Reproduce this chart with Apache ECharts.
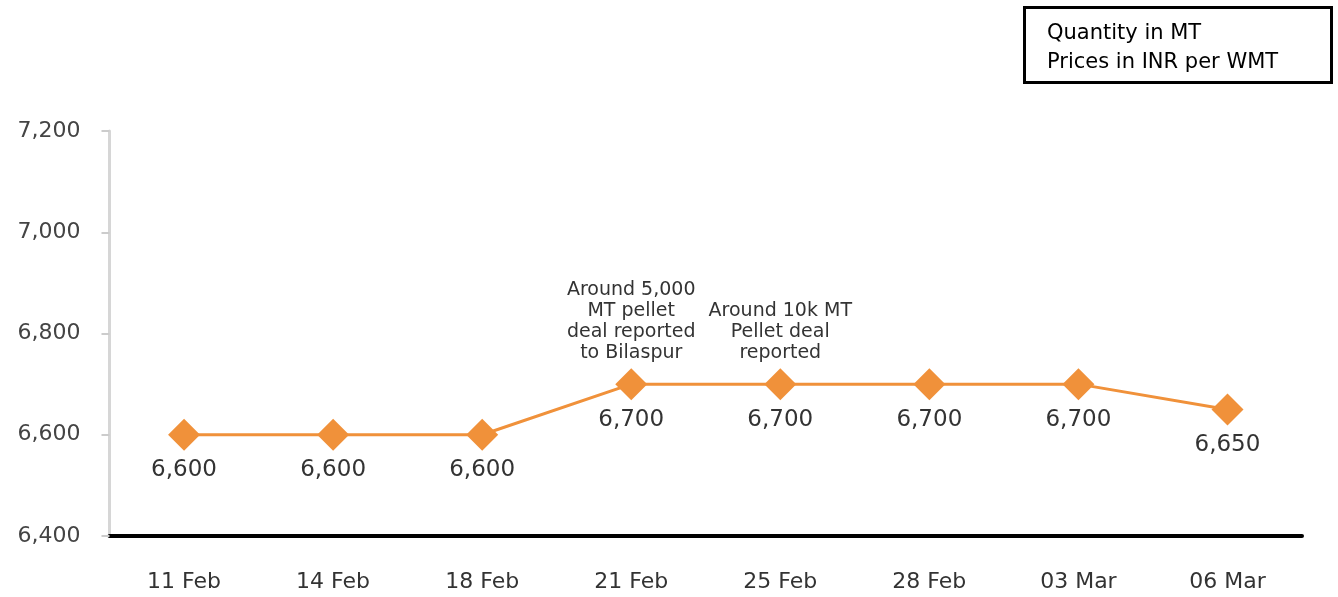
<!DOCTYPE html>
<html>
<head>
<meta charset="utf-8">
<script src="https://cdn.jsdelivr.net/npm/echarts@6/dist/echarts.min.js"></script>
<style>
    html, body { margin: 0; padding: 0; background: #fff; }
    #chart { width: 1338px; height: 597px; }
</style>
</head>
<body>
<div id="chart"></div>
<script>
// 日期 / 价格 / 注释
const dates = ['11 Feb', '14 Feb', '18 Feb', '21 Feb', '25 Feb', '28 Feb', '03 Mar', '06 Mar'];
const prices = [6600, 6600, 6600, 6700, 6700, 6700, 6700, 6650];
const notes = [
    '', '', '',
    'Around 5,000\nMT pellet\ndeal reported\nto Bilaspur',
    'Around 10k MT\nPellet deal\nreported',
    '', '', ''
];
const yMin = 6400;
const yMax = 7200;
const yStep = 200;
const legendLines = ['Quantity in MT', 'Prices in INR per WMT'];

const fmt = v => Number(v).toLocaleString('en-US');

const chart = echarts.init(document.getElementById('chart'));

const option = {
    animation: false,
    textStyle: { fontFamily: 'DejaVu Sans' },
    grid: { left: 109.5, right: 36, top: 131, bottom: 61 },
    xAxis: {
        type: 'category',
        data: dates,
        boundaryGap: true,
        axisLine: { lineStyle: { color: '#000', width: 4 } },
        axisTick: { alignWithLabel: true, length: 10, lineStyle: { color: '#888', width: 2 } },
        axisLabel: { margin: 35, fontSize: 22, color: '#333' }
    },
    yAxis: {
        type: 'value',
        min: yMin,
        max: yMax,
        interval: yStep,
        splitLine: { show: false },
        axisLine: { show: true, lineStyle: { color: '#d6d6d6', width: 3 } },
        axisTick: { show: true, length: 8, lineStyle: { color: '#ccc', width: 2 } },
        axisLabel: { margin: 29, fontSize: 22, color: '#444', formatter: fmt }
    },
    series: [
        {
            type: 'line',
            data: prices,
            symbol: 'diamond',
            symbolSize: 32,
            itemStyle: { color: '#F0913A' },
            lineStyle: { color: '#F0913A', width: 3 },
            label: {
                show: true,
                position: 'bottom',
                distance: 8,
                fontSize: 23,
                color: '#333',
                formatter: p => fmt(p.value)
            },
            z: 3
        },
        {
            // 注释文字
            type: 'line',
            data: prices.map((v, i) => notes[i] ? v : '-'),
            symbol: 'circle',
            symbolSize: 1,
            itemStyle: { color: 'rgba(0,0,0,0)' },
            lineStyle: { width: 0, opacity: 0 },
            label: {
                show: true,
                position: 'top',
                distance: 20,
                fontSize: 19,
                lineHeight: 21,
                color: '#333',
                align: 'center',
                formatter: p => notes[p.dataIndex]
            },
            z: 4
        }
    ],
    graphic: [
        {
            type: 'rect',
            shape: { x: 1024.5, y: 7.5, width: 307, height: 75 },
            style: { fill: '#fff', stroke: '#000', lineWidth: 3 }
        },
        {
            type: 'text',
            x: 1047,
            y: 19,
            style: {
                text: legendLines.join('\n'),
                font: '21px "DejaVu Sans"',
                lineHeight: 29,
                fill: '#000'
            }
        }
    ]
};

chart.setOption(option);
</script>
</body>
</html>
